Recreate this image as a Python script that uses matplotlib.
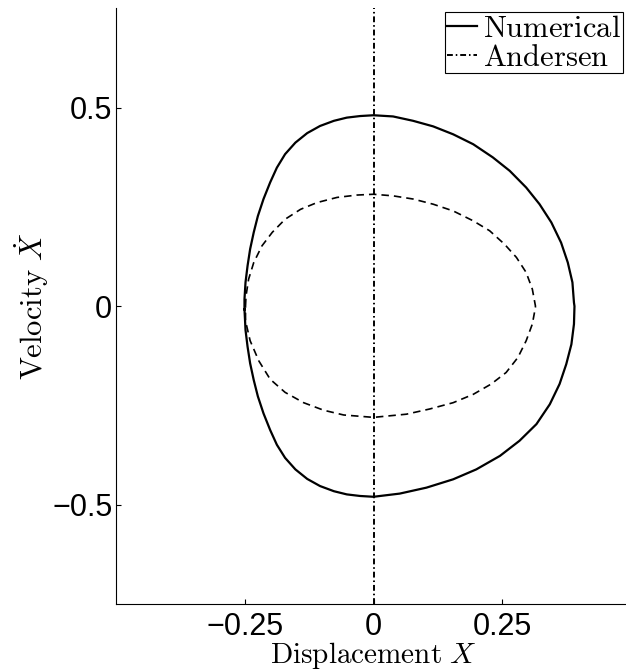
import matplotlib
matplotlib.use("Agg")
import matplotlib.pyplot as plt

plt.rcParams['mathtext.fontset'] = 'cm'

# numerical limit cycle (upper half left->right, lower half right->left)
num_x_upper = [-0.251, -0.251, -0.249, -0.245, -0.240, -0.233, -0.225, -0.214, -0.201, -0.188,
               -0.172, -0.152, -0.129, -0.104, -0.077, -0.052, -0.026, 0.0,
               0.038, 0.077, 0.116, 0.155, 0.194, 0.232, 0.265, 0.297, 0.323, 0.346,
               0.365, 0.378, 0.387, 0.390, 0.391]
num_y_upper = [-0.008, 0.018, 0.060, 0.102, 0.144, 0.186, 0.227, 0.270, 0.312, 0.349,
               0.383, 0.412, 0.436, 0.454, 0.467, 0.475, 0.479, 0.481,
               0.478, 0.467, 0.453, 0.433, 0.408, 0.375, 0.341, 0.299, 0.257, 0.211,
               0.160, 0.110, 0.060, 0.009, 0.0]
num_x_lower = [0.390, 0.385, 0.375, 0.362, 0.343, 0.317, 0.284, 0.246, 0.200, 0.155,
               0.103, 0.051, 0.0, -0.026, -0.052, -0.077, -0.104, -0.129, -0.152, -0.172,
               -0.188, -0.201, -0.214, -0.225, -0.233, -0.240, -0.245, -0.249, -0.251]
num_y_lower = [-0.045, -0.096, -0.146, -0.196, -0.247, -0.297, -0.339, -0.377, -0.411, -0.436,
               -0.457, -0.472, -0.480, -0.478, -0.474, -0.466, -0.453, -0.435, -0.411, -0.382,
               -0.349, -0.312, -0.270, -0.227, -0.186, -0.144, -0.102, -0.060, -0.008]

# inner dashed orbit
dash_x_upper = [-0.249, -0.248, -0.243, -0.233, -0.217, -0.197, -0.172, -0.142, -0.110, -0.071,
                -0.032, 0.0, 0.038, 0.077, 0.116, 0.155, 0.194, 0.226, 0.255, 0.278,
                0.297, 0.309, 0.315]
dash_y_upper = [0.0, 0.026, 0.068, 0.110, 0.152, 0.186, 0.219, 0.244, 0.261, 0.274,
                0.280, 0.282, 0.278, 0.270, 0.257, 0.240, 0.215, 0.190, 0.156, 0.123,
                0.085, 0.043, 0.001]
dash_x_lower = [0.315, 0.309, 0.297, 0.281, 0.258, 0.229, 0.194, 0.155, 0.109, 0.064, 0.0,
                -0.058, -0.097, -0.136, -0.172, -0.201, -0.223, -0.240, -0.249, -0.249]
dash_y_lower = [-0.003, -0.045, -0.087, -0.129, -0.167, -0.196, -0.222, -0.243, -0.259, -0.272, -0.280,
                -0.274, -0.262, -0.243, -0.217, -0.184, -0.138, -0.087, -0.037, 0.0]

# Andersen line
and_x = [0.0, 0.0]
and_y = [-0.75, 0.75]

x_ticks = [-0.25, 0, 0.25]
x_labels = ['\u22120.25', '0', '0.25']
y_ticks = [-0.5, 0, 0.5]
y_labels = ['\u22120.5', '0', '0.5']

fig = plt.figure(figsize=(6.26, 6.71), dpi=100)
ax = fig.add_axes([0.1861, 0.0999, 0.8211, 0.8875])

ax.plot(num_x_upper + num_x_lower, num_y_upper + num_y_lower, color='black', lw=1.6,
        label=r'$\mathrm{Numerical}$', solid_joinstyle='round')
ax.plot(and_x, and_y, color='black', lw=1.4, linestyle=(0, (3, 1.5, 0.8, 1.5)),
        label=r'$\mathrm{Andersen}$')
ax.plot(dash_x_upper + dash_x_lower, dash_y_upper + dash_y_lower, color='black', lw=1.2,
        linestyle=(0, (4.5, 3)))

ax.set_xlim(-0.5, 0.5)
ax.set_ylim(-0.75, 0.75)
ax.set_xticks(x_ticks)
ax.set_xticklabels(x_labels)
ax.set_yticks(y_ticks)
ax.set_yticklabels(y_labels)
for lab in ax.get_xticklabels() + ax.get_yticklabels():
    lab.set_fontfamily('Liberation Sans')
    lab.set_fontsize(22)
ax.tick_params(axis='x', direction='in', length=3.6, width=0.8, pad=6)
ax.tick_params(axis='y', direction='in', length=3.6, width=0.8, pad=3)

ax.spines['top'].set_visible(False)
ax.spines['right'].set_visible(False)
ax.spines['left'].set_linewidth(0.8)
ax.spines['bottom'].set_linewidth(0.8)

ax.set_xlabel(r'$\mathrm{Displacement}\ X$', fontsize=21, labelpad=-2)
ax.set_ylabel(r'$\mathrm{Velocity}\ \dot{X}$', fontsize=22, labelpad=1)

leg = ax.legend(loc='upper right', bbox_to_anchor=(623 / 626, 1 - 12 / 671),
                bbox_transform=fig.transFigure, borderaxespad=0, fontsize=22,
                fancybox=False, edgecolor='black', framealpha=1, handlelength=1.0,
                handletextpad=0.2, labelspacing=0.0, borderpad=0.05)
leg.get_frame().set_linewidth(0.8)

fig.savefig('out.png', dpi=100)
